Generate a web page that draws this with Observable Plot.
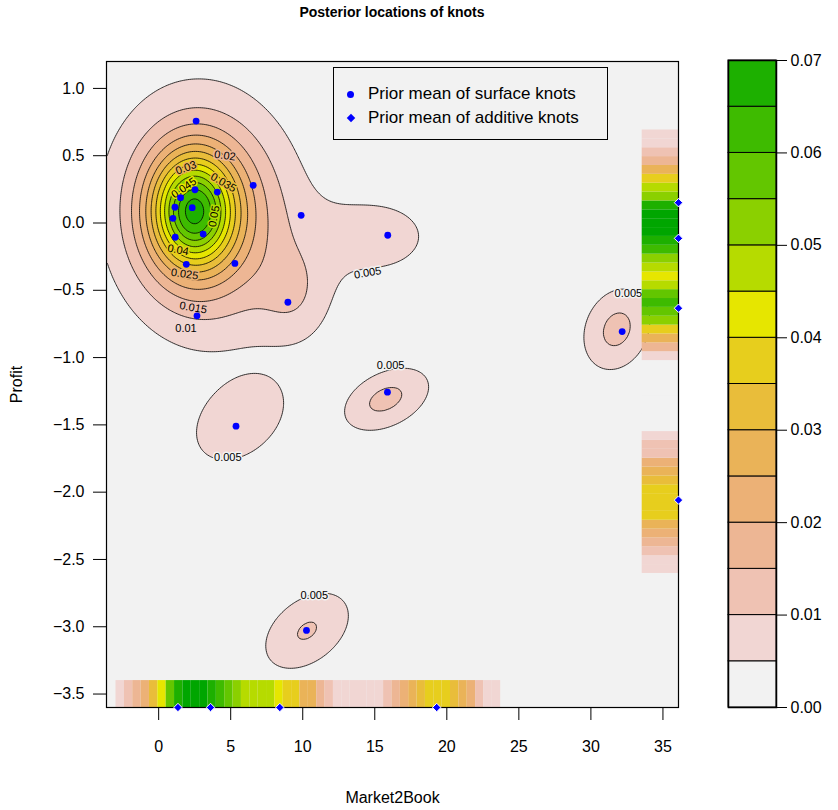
<!DOCTYPE html>
<html><head><meta charset="utf-8">
<script src="https://cdn.jsdelivr.net/npm/d3@7"></script>
<script src="https://cdn.jsdelivr.net/npm/@observablehq/plot@0.6"></script>
<style>
body{margin:0;background:#fff;}
#wrap{position:relative;width:838px;height:810px;font-family:"Liberation Sans",Arial,Helvetica,sans-serif;color:#000;}
#main{position:absolute;left:0;top:0;}
#key{position:absolute;left:690px;top:0;}
#title{position:absolute;left:0;width:784px;top:4px;text-align:center;font-weight:bold;font-size:14px;}
#legend{position:absolute;left:333px;top:67px;width:275px;height:73px;border:1px solid #000;background:#f2f2f2;box-sizing:border-box;font-size:17px;}
.row{position:absolute;left:0;height:20px;line-height:20px;white-space:nowrap;}
.row span.t{position:absolute;left:34px;top:0;}
.sym{position:absolute;background:#0000ff;}
</style></head>
<body>
<div id="wrap">
  <div id="main"></div>
  <div id="key"></div>
  <div id="title">Posterior locations of knots</div>
  <div id="legend">
    <div class="row" style="top:16px"><span class="sym" style="left:13px;top:7px;width:7px;height:7px;border-radius:50%"></span><span class="t">Prior mean of surface knots</span></div>
    <div class="row" style="top:40px"><span class="sym" style="left:13.5px;top:6.5px;width:6px;height:6px;transform:rotate(45deg)"></span><span class="t">Prior mean of additive knots</span></div>
  </div>
</div>
<script>
// ---------- data ----------
const xDomain = [-3.62, 36.08];
const yDomain = [-3.6, 1.2];
const xTicks = [0, 5, 10, 15, 20, 25, 30, 35];
const yTicks = [1.0, 0.5, 0.0, -0.5, -1.0, -1.5, -2.0, -2.5, -3.0, -3.5];
const levels = [0.005, 0.01, 0.015, 0.02, 0.025, 0.03, 0.035, 0.04, 0.045, 0.05, 0.055, 0.06, 0.065, 0.07];
const keyTicks = [0, 0.01, 0.02, 0.03, 0.04, 0.05, 0.06, 0.07];
const palette = ["#F2F2F2","#F1D6D3","#EFC2B3","#EDB694","#ECB176","#EAB358","#E9BD3A","#E7CE1D","#E6E600","#B6DB00","#8BD000","#63C600","#3EBB00","#1DB000","#00A600"];

// posterior surface: bumps (centre, spread, tilt, flatness, height)
const bumpX     = [2.4, 2.8, 3.6, 15.5, 9.5, 5.6, 15.85, 10.3, 31.8];
const bumpY     = [0.09, 0.08, 0.03, -0.1, -0.55, -1.47, -1.31, -3.03, -0.79];
const bumpSX    = [1.9, 3.2, 5.0, 3.3, 1.8, 2.32, 2.23, 2.22, 1.76];
const bumpSY    = [0.28, 0.45, 0.68, 0.25, 0.25, 0.232, 0.177, 0.216, 0.23];
const bumpRho   = [0, 0, -0.1, 0, 0, 0.35, 0.4, 0.4, 0.2];
const bumpShape = [1, 1, 1, 1, 1, 2, 2, 2, 2];
const bumpAmp   = [0.04, 0.017, 0.011, 0.0065, 0.006, 0.0085, 0.01003, 0.01002, 0.0102];

// surface knots (prior means)
const surfKnotX = [2.60, 6.56, 9.89, 15.90, 2.52, 4.07, 1.52, 1.13, 2.33, 0.99, 3.09, 1.15, 1.92, 5.29, 8.97, 2.66, 5.37, 15.88, 10.26, 32.17];
const surfKnotY = [0.757, 0.28, 0.057, -0.091, 0.247, 0.23, 0.188, 0.117, 0.114, 0.035, -0.082, -0.106, -0.307, -0.30, -0.589, -0.69, -1.51, -1.257, -3.027, -0.807];
// additive knots (prior means)
const addKnotX = [1.34, 3.6, 8.41, 19.3];
const addKnotY = [0.151, -0.114, -0.633, -2.059];

// marginal posterior strips of additive knots
const bottomStripStart = -2.96, bottomStripBin = 0.5804, bottomStripDepth = 0.20;
const bottomStripDensity = [0.0075,0.0125,0.0175,0.0225,0.0325,0.0425,0.0575,0.0675,0.074,0.076,
  0.073,0.0675,0.0625,0.0575,0.0525,0.0475,0.0475,0.0475,0.0475,0.0425,
  0.0375,0.0375,0.0275,0.0275,0.0175,0.0125,0.0075,0.0075,0.0075,0.0075,
  0.0075,0.0075,0.0125,0.0175,0.0225,0.0275,0.0325,0.0375,0.0375,0.0375,
  0.0325,0.0275,0.0225,0.0125,0.0075,0.0075];
const rightStripStart = -2.604, rightStripBin = 0.0659, rightStripDepth = 2.52;
const rightStripDensity = [0.0075,0.0075,0.0125,0.0175,0.0225,0.0275,0.0375,0.0375,0.0375,0.0375,
  0.0325,0.0275,0.0225,0.0125,0.0125,0.0075,0,0,0,0,
  0,0,0,0,0.0075,0.0175,0.0275,0.0375,0.0525,0.0575,
  0.0625,0.0575,0.0475,0.0425,0.0475,0.0525,0.0625,0.0675,0.074,0.076,
  0.073,0.0675,0.0525,0.0475,0.0375,0.0275,0.0175,0.0125,0.0075,0.0075];

// contour labels
const labelText  = ["0.02","0.03","0.035","0.045","0.05","0.04","0.025","0.015","0.01","0.005","0.005","0.005","0.005","0.005"];
const labelValue = [0.02, 0.03, 0.035, 0.045, 0.05, 0.04, 0.025, 0.015, 0.01, 0.005, 0.005, 0.005, 0.005, 0.005];
const labelX     = [4.6, 1.9, 4.5, 1.75, 3.85, 1.35, 1.8, 2.4, 1.9, 14.5, 32.6, 4.8, 16.1, 10.8];
const labelY     = [0.50, 0.41, 0.30, 0.26, 0.05, -0.20, -0.38, -0.63, -0.78, -0.37, -0.52, -1.745, -1.06, -2.77];
const labelAngle = [8, -20, 30, -35, -80, 10, 8, 10, 0, -10, 0, 0, 0, 0];

// ---------- build ----------
function density(x, y) {
  let s = 0;
  for (let i = 0; i < bumpX.length; i++) {
    const zx = (x - bumpX[i]) / bumpSX[i], zy = (y - bumpY[i]) / bumpSY[i], r = bumpRho[i];
    const q = (zx * zx - 2 * r * zx * zy + zy * zy) / (2 * (1 - r * r));
    s += bumpAmp[i] * Math.exp(-Math.pow(q, bumpShape[i]));
  }
  return s;
}
const surfKnots = surfKnotX.map((x, i) => ({x, y: surfKnotY[i]}));
const labels = labelText.map((t, i) => ({t, v: labelValue[i], x: labelX[i], y: labelY[i], a: labelAngle[i]}));
const bottomCells = bottomStripDensity.map((v, i) => ({v, x1: bottomStripStart + i * bottomStripBin, x2: bottomStripStart + (i + 1) * bottomStripBin}));
const rightCells = rightStripDensity.map((v, i) => ({v, y1: rightStripStart + i * rightStripBin, y2: rightStripStart + (i + 1) * rightStripBin}));
const colorScale = {type: "threshold", domain: levels, range: palette};
const font = {fontFamily: "'Liberation Sans', Arial, Helvetica, sans-serif", fontSize: "16px", background: "transparent", overflow: "visible"};

const main = Plot.plot({
  width: 700, height: 810,
  marginLeft: 106, marginRight: 22, marginTop: 61, marginBottom: 103,
  style: font,
  x: {domain: xDomain, ticks: xTicks, tickSize: 13, tickPadding: 20, label: "Market2Book", labelAnchor: "center", labelArrow: "none", labelOffset: 95},
  y: {domain: yDomain, ticks: yTicks, tickFormat: d3.format(".1f"), tickSize: 13, tickPadding: 9, label: "Profit", labelAnchor: "center", labelArrow: "none", labelOffset: 96},
  color: colorScale,
  marks: [
    Plot.frame({fill: palette[0]}),
    Plot.contour({value: density, fill: "value", stroke: "black", strokeWidth: 0.8, thresholds: levels,
      x1: xDomain[0], x2: xDomain[1], y1: yDomain[0], y2: yDomain[1], pixelSize: 2}),
    Plot.text(labels, {x: "x", y: "y", text: "t", rotate: "a", fill: "black", stroke: d => d.v - 0.0025, strokeWidth: 3, fontSize: 11}),
    Plot.rect(bottomCells, {x1: "x1", x2: "x2", y1: yDomain[0], y2: yDomain[0] + bottomStripDepth, fill: "v"}),
    Plot.rect(rightCells, {y1: "y1", y2: "y2", x1: xDomain[1] - rightStripDepth, x2: xDomain[1], fill: "v"}),
    Plot.frame({stroke: "black", strokeWidth: 1.2}),
    Plot.dot(surfKnots, {x: "x", y: "y", r: 3.4, fill: "#0000ff"}),
    Plot.dot(addKnotX, {x: d => d, frameAnchor: "bottom", symbol: "diamond2", r: 3.8, fill: "#0000ff", stroke: "white", strokeWidth: 1}),
    Plot.dot(addKnotY, {y: d => d, frameAnchor: "right", symbol: "diamond2", r: 3.8, fill: "#0000ff", stroke: "white", strokeWidth: 1})
  ]
});
document.getElementById("main").appendChild(main);

const keyLo = [0, ...levels.slice(0, -1)];
const keyCells = keyLo.map((lo, i) => ({lo, hi: levels[i]}));
const key = Plot.plot({
  width: 148, height: 810,
  marginLeft: 38, marginRight: 62, marginTop: 60, marginBottom: 103,
  style: font,
  x: {axis: null, domain: [0, 1]},
  y: {domain: [0, 0.07], axis: "right", ticks: keyTicks, tickFormat: d3.format(".2f"), tickSize: 10, tickPadding: 4, label: null},
  color: colorScale,
  marks: [
    Plot.rect(keyCells, {x1: 0, x2: 1, y1: "lo", y2: "hi", fill: "lo", stroke: "black", strokeWidth: 1}),
    Plot.frame({stroke: "black", strokeWidth: 1.5})
  ]
});
document.getElementById("key").appendChild(key);
</script>
</body></html>
